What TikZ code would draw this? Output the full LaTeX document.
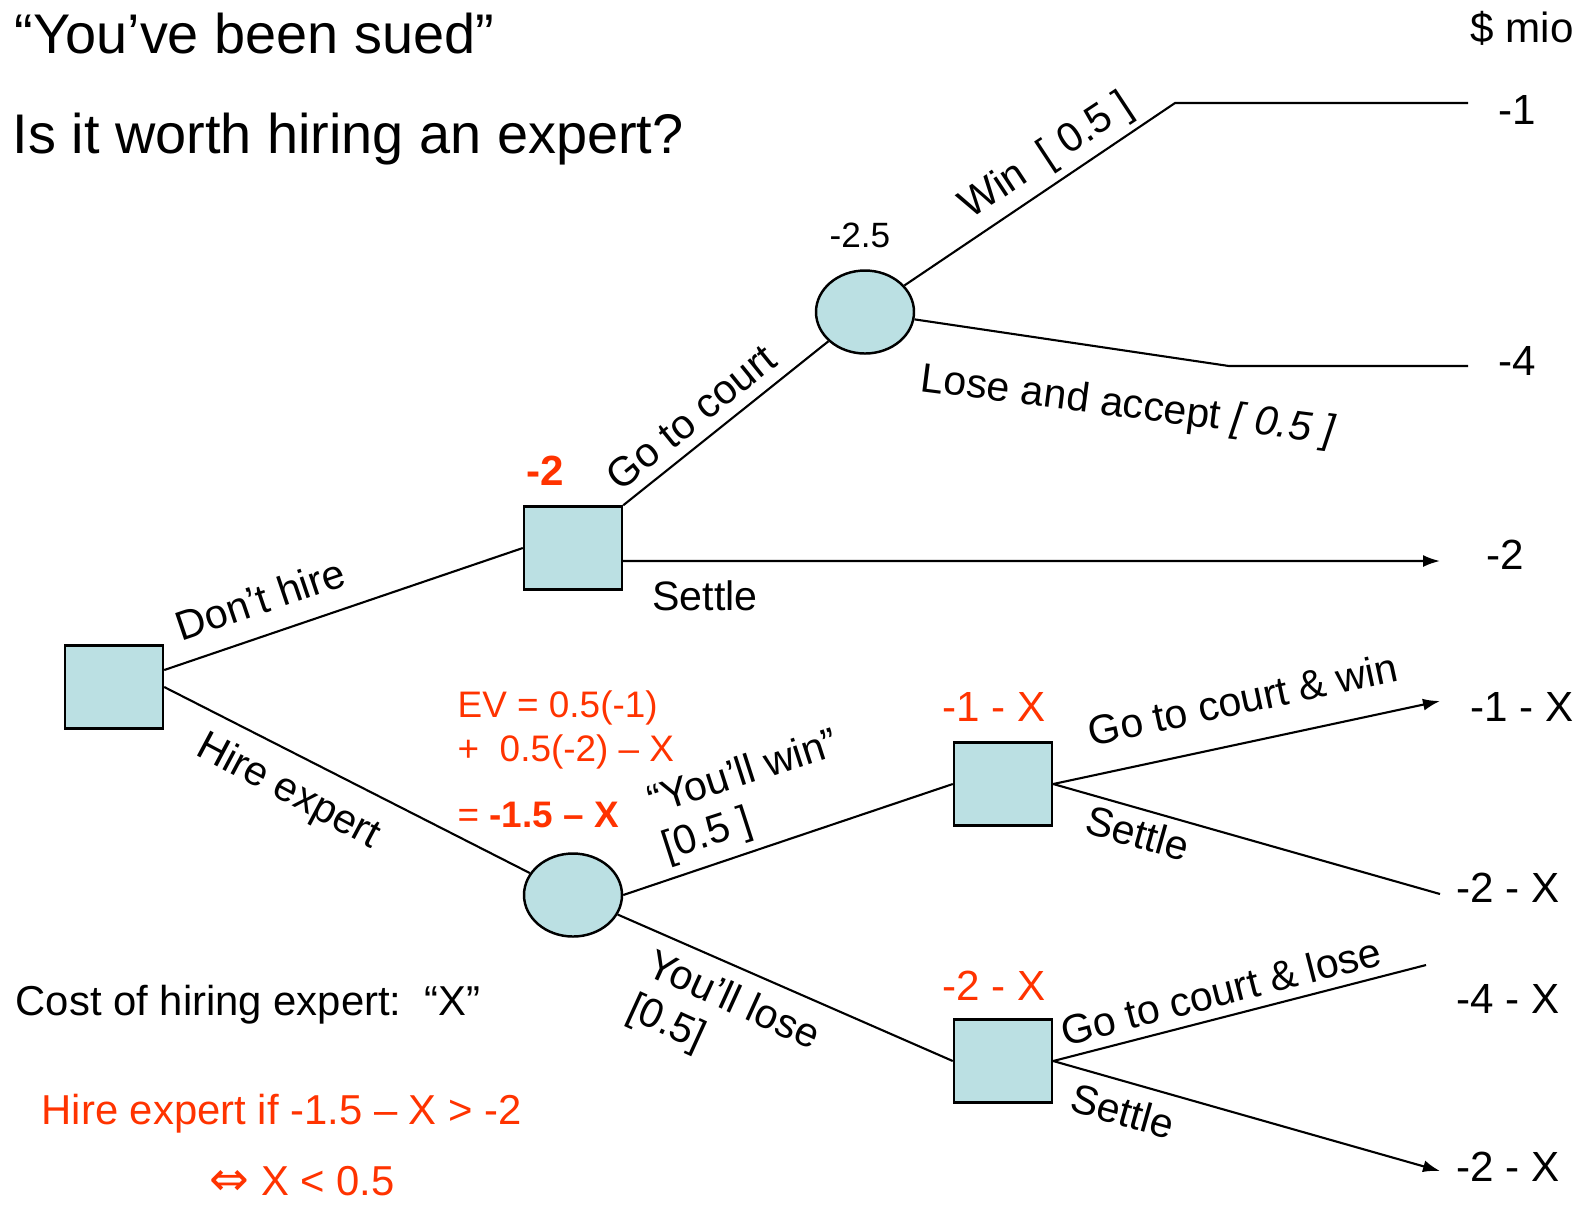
\documentclass[tikz,border=0pt]{standalone}
\usepackage{fontspec}
\setmainfont{Liberation Sans}
\newfontfamily\symfont{DejaVu Sans}
\usetikzlibrary{shapes.geometric,arrows.meta}

\definecolor{nodefill}{RGB}{187,224,227}
\definecolor{evred}{RGB}{255,51,0}

\tikzset{
  decision/.style={draw, line width=0.7pt, fill=nodefill, minimum width=9.8mm, minimum height=8.3mm, inner sep=0},
  chance/.style={decision, ellipse},
  branch/.style={line width=0.6pt},
  arrowbranch/.style={branch, -{Latex[length=1.7mm,width=1.2mm]}},
  lbl/.style={font=\fontsize{11.7}{13.5}\selectfont, inner sep=0},
  note/.style={font=\fontsize{11.9}{14}\selectfont, inner sep=0, anchor=base west},
  val/.style={font=\fontsize{12}{14}\selectfont, inner sep=0, anchor=west},
  evtxt/.style={font=\fontsize{10.5}{12.5}\selectfont, inner sep=0, anchor=base west, text=evred},
  redtxt/.style={text=evred}
}

\begin{document}
\begin{tikzpicture}[x=0.1mm, y=-0.1mm]
  \useasboundingbox (0,0) rectangle (1577,1204);

  %%%%% titles %%%%%
  \node[anchor=base west, inner sep=0, font=\fontsize{15.9}{18}\selectfont] (title) at (14,53) {“You’ve been sued”};
  \node[anchor=base west, inner sep=0, font=\fontsize{15.9}{18}\selectfont] (question) at (12,153) {Is it worth hiring an expert?};
  \node[val] (unit) at (1470,28) {\$ mio};

  %%%%% decision and chance nodes %%%%%
  \node[decision] (root) at (114,687) {};
  \node[decision] (dh) at (573,548) {};
  \node[chance] (court) at (865,312) {};
  \node[chance] (hire) at (573,895) {};
  \node[decision] (win) at (1003,784) {};
  \node[decision] (lose) at (1003,1061) {};

  % free ends of the branches
  \coordinate (winbend) at (1175,103);
  \coordinate (winend) at (1468,103);
  \coordinate (losebend) at (1229,366);
  \coordinate (loseend) at (1468,366);
  \coordinate (settleend) at (1440,561);
  \coordinate (cwend) at (1440,701);
  \coordinate (swend) at (1440,894);
  \coordinate (clend) at (1426,965);
  \coordinate (slend) at (1440,1171);

  %%%%% branches %%%%%
  \draw[branch] ([yshift=1.7mm]root.east) -- (dh.west);
  \draw[branch] (root.east) -- (hire);
  \draw[branch] (dh.north east) -- (court);
  \draw[arrowbranch] ([yshift=-1.3mm]dh.east) -- (settleend);
  \draw[branch] (court) -- (winbend) -- (winend);
  \draw[branch] (court) -- (losebend) -- (loseend);
  \draw[branch] (hire.east) -- (win.west);
  \draw[branch] (hire) -- (lose.west);
  \draw[arrowbranch] (win.east) -- (cwend);
  \draw[branch] (win.east) -- (swend);
  \draw[branch] (lose.east) -- (clend);
  \draw[arrowbranch] (lose.east) -- (slend);

  %%%%% branch labels %%%%%
  \node[lbl, rotate=18.7] (ldont) at (260,599) {Don’t hire};
  \node[lbl, rotate=-28] (lhire) at (288,792) {Hire expert};
  \node[lbl, rotate=39] (lcourt) at (691,417) {Go to court};
  \node[lbl, rotate=33.4] (lwin) at (1047,157) {Win\ \ [ 0.5 ]};
  \node[lbl, rotate=-7.3] (llose) at (1128,407) {Lose and accept \textit{[ 0.5 ]}};
  \node[lbl] (lsettle) at (705,596) {Settle};
  \node[lbl, rotate=17.9, align=left] (lyouwin) at (751,797) {“You’ll win”\\{[}0.5 ]};
  \node[lbl, rotate=-24.5, align=left] (lyoulose) at (723,1024) {You’ll lose\\{[}0.5]};
  \node[lbl, rotate=12.1] (lcw) at (1243,699) {Go to court \& win};
  \node[lbl, rotate=-15.8] (lsw) at (1138,833) {Settle};
  \node[lbl, rotate=14.4] (lcl) at (1221,991) {Go to court \& lose};
  \node[lbl, rotate=-15.8] (lsl) at (1123,1111) {Settle};

  %%%%% pay-offs %%%%%
  \node[val] (v1) at (1498,110) {-1};
  \node[val] (v4) at (1498,361) {-4};
  \node[val] (v2) at (1486,555) {-2};
  \node[val] (vcw) at (1470,707) {-1 - X};
  \node[val] (vsw) at (1456,888) {-2 - X};
  \node[val] (vcl) at (1456,999) {-4 - X};
  \node[val] (vsl) at (1456,1167) {-2 - X};

  %%%%% expected values %%%%%
  \node[inner sep=0, font=\fontsize{10}{12}\selectfont] (evcourt) at (860,235) {-2.5};
  \node[inner sep=0, redtxt, font=\fontsize{12}{14}\selectfont\bfseries] (evdh) at (545,471) {-2};
  \node[val, redtxt, anchor=center] (evwin) at (994,707) {-1 - X};
  \node[val, redtxt, anchor=center] (evlose) at (994,986) {-2 - X};
  \node[evtxt] (ev1) at (457,717) {EV = 0.5(-1)};
  \node[evtxt] (ev2) at (457,761) {+\ \ 0.5(-2) – X};
  \node[evtxt] (ev3) at (457,827) {= \textbf{-1.5 – X}};

  %%%%% notes %%%%%
  \node[note] (cost) at (15,1015) {Cost of hiring expert:\ \ “X”};
  \node[note, redtxt] (rule) at (41,1124) {Hire expert if -1.5 – X > -2};
  \node[note, redtxt] (rule2) at (209,1195) {{\symfont\fontsize{13.5}{14}\selectfont ⇔} X < 0.5};
\end{tikzpicture}
\end{document}
